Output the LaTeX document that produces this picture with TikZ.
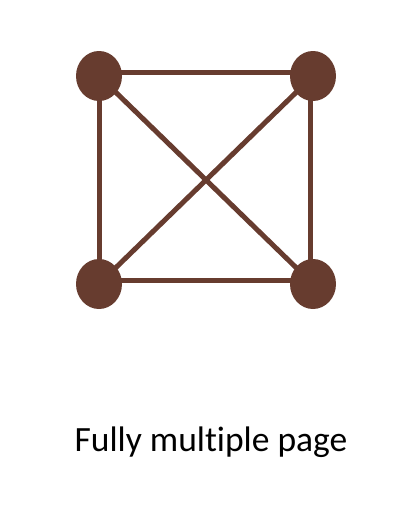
\documentclass[tikz,border=0pt]{standalone}
\usepackage{fontspec}
\setmainfont{Carlito}[Ligatures=NoCommon]
\usetikzlibrary{shapes.geometric}
\definecolor{bark}{HTML}{673C2F}
\begin{document}
\begin{tikzpicture}[x=1pt,y=-1pt,
    vertex/.style={ellipse, fill=bark, minimum width=46pt, minimum height=50pt, inner sep=0pt},
    edge/.style={draw=bark, line width=5pt}]
        \useasboundingbox (0,0) rectangle (405,525);
        \node [vertex] (tl) at (99, 76) {};
        \node [vertex] (tr) at (313, 76) {};
        \node [vertex] (bl) at (99, 284) {};
        \node [vertex] (br) at (313, 284) {};
        \draw [edge] ([yshift=3.5pt]tl.center) -- ([yshift=3.5pt]tr.center);
        \draw [edge] ([xshift=-2.5pt]tr.center) -- ([xshift=-2.5pt]br.center);
        \draw [edge] ([yshift=3.5pt]br.center) -- ([yshift=3.5pt]bl.center);
        \draw [edge] (bl.center) -- (tl.center);
        \draw [edge] (tl.center) -- (br.center);
        \draw [edge] (tr.center) -- (bl.center);
        \node (title) at (211, 442) {\fontsize{35.5}{42}\selectfont Fully multiple page};
      \end{tikzpicture}
\end{document}
